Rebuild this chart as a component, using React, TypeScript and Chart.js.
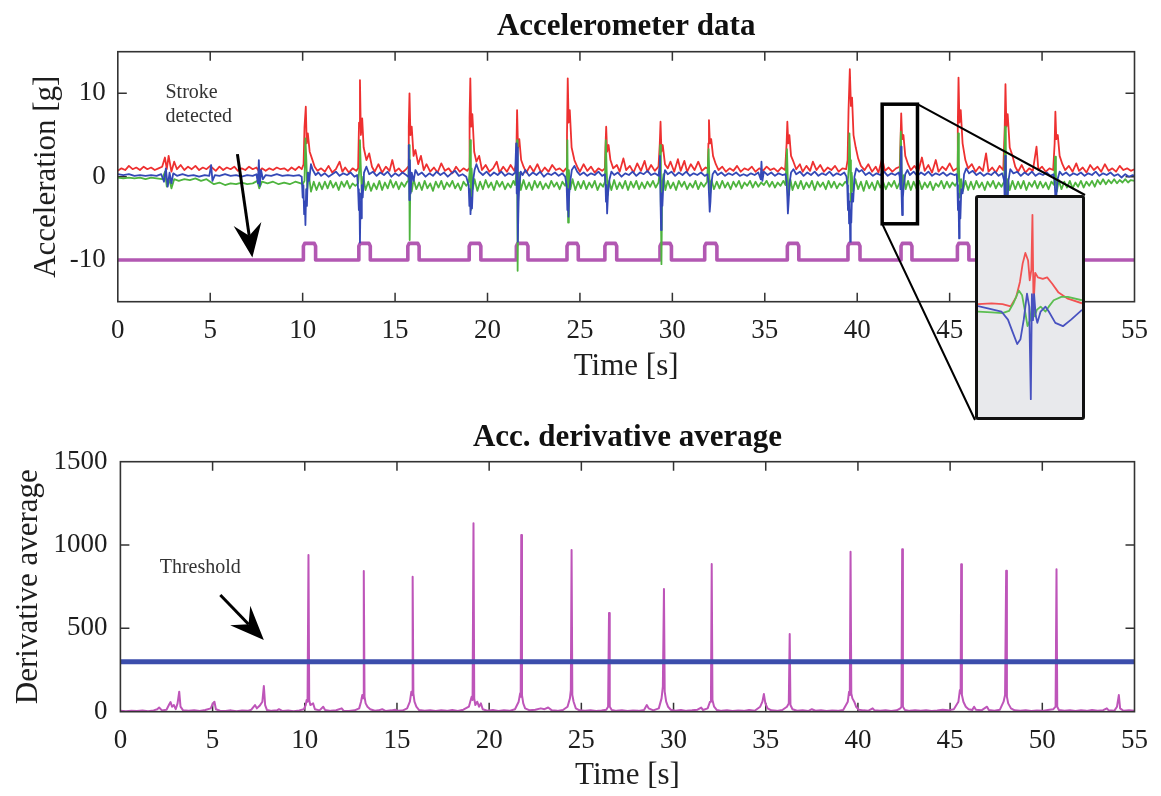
import React, { useEffect, useRef } from 'react';
import { Chart, registerables } from 'chart.js';
Chart.register(...registerables);

type P = [number, number];

const FAMILY = "'Liberation Serif', 'Times New Roman', serif";

const timeTicks = [0, 5, 10, 15, 20, 25, 30, 35, 40, 45, 50, 55];
const accTicks = [-10, 0, 10];
const derivTicks = [0, 500, 1000, 1500];

// Accelerometer x-axis (red)
const redAcc: P[] = [
  [0,0.7],[0.2,1.0],[0.4,0.8],[0.6,1.3],[0.8,0.9],[1.0,1.1],[1.2,0.8],[1.4,1.2],[1.6,0.9],[1.8,1.1],[2.0,0.8],[2.2,1.0],[2.4,1.2],[2.55,2.3],[2.65,0.9],[2.75,2.5],[2.9,0.6],[3.05,1.8],[3.2,0.9],[3.4,1.4],[3.6,0.8],[3.8,1.2],[4.0,0.9],[4.2,1.3],[4.4,0.8],[4.6,1.1],[4.8,0.9],[5.0,1.3],[5.15,1.0],[5.3,0.7],[5.5,1.2],[5.7,0.8],[5.9,1.1],[6.1,0.9],[6.3,1.2],[6.5,0.7],[6.7,1.0],[6.9,0.8],[7.1,1.2],[7.3,0.9],[7.5,1.1],[7.65,0.6],[7.8,1.0],[8.0,0.7],[8.2,1.0],[8.4,0.8],[8.6,1.1],[8.8,0.9],[9.0,1.0],[9.2,0.7],[9.4,1.1],[9.6,0.8],[9.8,1.2],[9.95,0.9],
  [10.05,1.5],[10.1,6.0],[10.17,8.4],[10.22,4.0],[10.28,5.2],[10.38,3.0],[10.5,2.2],[10.65,1.2],[10.8,0.7],[11.0,1.0],[11.2,0.6],[11.4,1.3],[11.6,0.5],[11.8,0.9],[12.0,1.8],[12.15,0.6],[12.3,1.1],[12.5,0.5],[12.7,1.0],[12.9,0.7],
  [13.0,1.0],[13.05,6.5],[13.1,11.6],[13.15,5.0],[13.22,7.0],[13.3,3.5],[13.45,2.0],[13.6,2.8],[13.75,1.2],[13.9,0.6],[14.1,1.5],[14.3,0.5],[14.5,1.2],[14.7,0.7],[14.85,2.0],[15.0,0.6],[15.2,1.0],[15.4,0.5],[15.6,0.9],
  [15.7,1.2],[15.74,6.0],[15.78,10.0],[15.83,5.0],[15.9,6.0],[16.0,2.5],[16.1,3.2],[16.25,1.5],[16.4,2.5],[16.55,0.8],[16.7,1.5],[16.9,0.6],[17.1,1.1],[17.3,0.5],[17.5,1.6],[17.7,0.7],[17.9,1.0],[18.1,0.4],[18.3,1.2],[18.5,0.6],[18.7,1.0],[18.9,0.7],
  [19.0,1.0],[19.03,7.0],[19.07,11.8],[19.12,6.0],[19.18,7.5],[19.28,3.0],[19.4,1.8],[19.55,2.5],[19.7,0.8],[19.9,1.4],[20.1,0.6],[20.3,1.0],[20.5,1.8],[20.65,0.5],[20.85,1.2],[21.05,0.6],[21.25,1.4],[21.45,0.7],
  [21.55,1.5],[21.6,8.0],[21.65,3.5],[21.72,4.5],[21.82,2.0],[21.95,1.2],[22.1,0.5],[22.3,1.3],[22.5,0.6],[22.7,1.5],[22.9,0.5],[23.1,1.1],[23.3,0.6],[23.5,1.4],[23.7,0.8],[23.9,1.0],[24.1,0.6],[24.25,1.0],
  [24.3,5.0],[24.34,11.8],[24.39,6.5],[24.45,8.0],[24.55,3.5],[24.7,2.0],[24.85,1.2],[25.0,0.6],[25.2,1.5],[25.4,0.7],[25.6,1.2],[25.8,0.5],[26.0,1.0],[26.2,0.7],[26.35,1.0],
  [26.38,3.5],[26.42,6.0],[26.47,3.0],[26.55,3.8],[26.65,2.0],[26.8,1.0],[27.0,1.4],[27.15,0.6],[27.35,2.2],[27.5,0.8],[27.7,1.3],[27.9,0.5],[28.1,1.6],[28.3,0.7],[28.5,1.9],[28.65,0.6],[28.85,1.4],[29.05,0.7],[29.25,1.2],
  [29.32,4.0],[29.36,6.6],[29.41,3.0],[29.48,3.8],[29.6,1.5],[29.75,1.0],[29.9,1.8],[30.1,0.6],[30.3,2.1],[30.45,0.7],[30.65,1.9],[30.8,0.6],[31.0,1.5],[31.2,0.8],[31.4,1.8],[31.6,0.7],[31.8,1.1],[31.92,1.0],
  [31.95,4.0],[31.98,6.8],[32.03,4.0],[32.1,4.5],[32.2,2.5],[32.35,1.5],[32.5,0.8],[32.7,1.2],[32.9,0.6],[33.1,1.0],[33.3,0.7],[33.5,1.3],[33.7,0.6],[33.9,1.0],[34.1,0.8],[34.3,1.2],[34.5,0.6],[34.7,1.0],[34.9,0.7],[35.1,1.2],[35.3,0.8],[35.5,1.0],[35.7,0.6],[35.9,1.1],[36.1,0.8],
  [36.18,4.0],[36.22,6.6],[36.27,4.0],[36.33,5.0],[36.42,2.5],[36.55,1.8],[36.7,0.9],[36.9,1.5],[37.05,0.6],[37.25,1.3],[37.45,0.7],[37.6,1.8],[37.8,0.8],[38.0,1.4],[38.2,0.6],[38.4,1.1],[38.6,0.8],[38.8,1.3],[39.0,0.6],[39.2,1.0],[39.4,0.9],
  [39.48,2.0],[39.53,8.0],[39.6,12.9],[39.66,8.5],[39.72,9.5],[39.8,5.0],[39.92,3.5],[40.05,2.2],[40.2,1.3],[40.4,0.8],[40.6,1.5],[40.8,0.6],[41.0,1.2],[41.15,0.5],[41.35,2.2],[41.5,0.7],[41.7,1.1],[41.9,0.6],[42.1,1.0],[42.3,1.2],
  [42.34,4.0],[42.38,7.6],[42.43,4.5],[42.5,5.0],[42.6,2.5],[42.75,1.5],[42.9,0.8],[43.1,1.3],[43.3,0.6],[43.5,2.3],[43.65,0.7],[43.85,1.4],[44.05,0.5],[44.25,2.0],[44.4,0.6],[44.6,1.2],[44.8,0.8],[45.0,1.6],[45.2,0.7],[45.4,1.0],
  [45.44,6.0],[45.48,11.9],[45.53,6.5],[45.6,8.0],[45.7,4.0],[45.85,2.0],[46.0,1.0],[46.2,1.5],[46.4,0.6],[46.6,1.2],[46.8,0.7],[46.97,2.8],[47.1,0.6],[47.3,1.1],[47.5,0.5],[47.7,1.3],[47.9,0.8],
  [47.98,6.0],[48.02,11.1],[48.07,6.0],[48.14,7.5],[48.25,3.5],[48.4,2.5],[48.55,1.2],[48.7,0.6],[48.9,1.4],[49.1,0.5],[49.3,1.0],[49.5,0.7],[49.7,3.6],[49.8,0.8],[50.0,1.2],[50.2,0.6],[50.4,1.0],[50.6,0.8],
  [50.68,4.0],[50.72,7.8],[50.77,4.5],[50.85,5.0],[50.95,2.5],[51.1,1.5],[51.25,0.8],[51.45,1.3],[51.65,0.6],[51.85,1.6],[52.0,0.7],[52.2,1.1],[52.4,0.5],[52.6,1.4],[52.8,0.8],[53.0,1.2],[53.2,0.6],[53.4,1.5],[53.6,0.7],[53.8,1.0],[54.0,0.6],[54.2,1.3],[54.4,0.8],[54.6,1.0],[54.8,0.7],[55.0,0.9]
];

// Accelerometer y-axis (green)
const greenAcc: P[] = [
  [0,-0.1],[0.3,-0.2],[0.6,-0.1],[0.9,-0.2],[1.2,-0.1],[1.5,-0.3],[1.8,-0.1],[2.1,-0.2],[2.4,-0.3],[2.55,0.6],[2.65,-1.2],[2.8,-0.4],[2.9,-1.4],[3.05,-0.3],[3.3,-0.5],[3.6,-0.3],[3.9,-0.4],[4.2,-0.2],[4.5,-0.5],[4.8,-0.3],[5.0,-0.6],[5.2,-0.9],[5.5,-0.7],[5.8,-1.0],[6.1,-0.8],[6.4,-0.9],[6.7,-0.7],[7.0,-0.9],[7.3,-0.8],[7.55,-0.5],[7.65,-1.4],[7.8,-0.6],[8.1,-0.8],[8.4,-0.6],[8.7,-0.9],[9.0,-0.7],[9.3,-0.9],[9.6,-0.6],[9.9,-0.8],
  [10.0,-0.9],[10.1,-0.5],[10.15,4.6],[10.2,2.0],[10.25,-1.5],[10.32,0.5],[10.45,-1.8],[10.6,-0.6],[10.75,-1.6],[10.9,-0.7],[11.05,-1.5],[11.2,-0.6],[11.35,-1.4],[11.5,-0.5],[11.65,-1.3],[11.8,-0.7],[11.95,-1.6],[12.1,-0.6],[12.25,-1.2],[12.4,-0.5],[12.55,-1.4],[12.7,-0.8],[12.85,-1.1],
  [13.0,-0.8],[13.07,1.0],[13.1,4.4],[13.14,1.5],[13.2,-2.0],[13.28,0.0],[13.4,-1.6],[13.55,-0.6],[13.7,-1.7],[13.85,-0.8],[14.0,-1.5],[14.15,-0.5],[14.3,-1.6],[14.45,-0.7],[14.6,-1.4],[14.75,-0.4],[14.9,-1.3],[15.05,-0.6],[15.2,-1.5],[15.35,-0.7],[15.5,-1.2],[15.65,-0.6],
  [15.72,-0.5],[15.76,3.8],[15.79,-7.6],[15.83,0.5],[15.9,-1.8],[16.0,-0.3],[16.15,-1.5],[16.3,-0.7],[16.45,-1.6],[16.6,-0.5],[16.75,-1.4],[16.9,-0.8],[17.05,-1.7],[17.2,-0.6],[17.35,-1.3],[17.5,-0.5],[17.65,-1.5],[17.8,-0.7],[17.95,-1.2],[18.1,-0.5],[18.25,-1.4],[18.4,-0.8],[18.55,-1.6],[18.7,-0.6],[18.85,-1.1],[18.98,-0.7],
  [19.03,0.5],[19.06,4.4],[19.1,-4.0],[19.14,1.0],[19.2,-1.5],[19.3,-0.3],[19.45,-1.7],[19.6,-0.6],[19.75,-1.5],[19.9,-0.4],[20.05,-1.3],[20.2,-0.7],[20.35,-1.6],[20.5,-0.5],[20.65,-1.2],[20.8,-0.6],[20.95,-1.5],[21.1,-0.8],[21.25,-1.3],[21.4,-0.5],[21.5,-1.0],
  [21.57,0.8],[21.6,4.4],[21.63,-11.3],[21.67,-1.0],[21.72,0.5],[21.8,-1.6],[21.95,-0.4],[22.1,-1.5],[22.25,-0.7],[22.4,-1.6],[22.55,-0.5],[22.7,-1.3],[22.85,-0.6],[23.0,-1.5],[23.15,-0.8],[23.3,-1.4],[23.45,-0.5],[23.6,-1.2],[23.75,-0.7],[23.9,-1.5],[24.05,-0.6],[24.2,-1.1],
  [24.28,-0.5],[24.32,4.4],[24.36,-5.5],[24.4,0.8],[24.48,-1.5],[24.6,-0.3],[24.75,-1.6],[24.9,-0.6],[25.05,-1.4],[25.2,-0.5],[25.35,-1.5],[25.5,-0.7],[25.65,-1.3],[25.8,-0.5],[25.95,-1.6],[26.1,-0.8],[26.25,-1.2],[26.35,-0.6],
  [26.4,4.4],[26.45,0.5],[26.5,-2.2],[26.58,-0.5],[26.7,-1.6],[26.85,-0.4],[27.0,-1.5],[27.15,-0.7],[27.3,-1.4],[27.45,-0.5],[27.6,-1.6],[27.75,-0.6],[27.9,-1.3],[28.05,-0.5],[28.2,-1.5],[28.35,-0.7],[28.5,-1.4],[28.65,-0.6],[28.8,-1.2],[28.95,-0.5],[29.1,-1.3],[29.25,-0.7],
  [29.31,0.5],[29.34,3.8],[29.38,-4.0],[29.41,-10.5],[29.45,-1.0],[29.52,0.3],[29.62,-1.6],[29.75,-0.5],[29.9,-1.4],[30.05,-0.7],[30.2,-1.6],[30.35,-0.5],[30.5,-1.2],[30.65,-0.6],[30.8,-1.5],[30.95,-0.8],[31.1,-1.3],[31.25,-0.5],[31.4,-1.5],[31.55,-0.7],[31.7,-1.2],[31.88,-0.6],
  [31.96,3.3],[32.0,0.0],[32.05,-2.0],[32.12,-0.4],[32.25,-1.5],[32.4,-0.6],[32.55,-1.4],[32.7,-0.5],[32.85,-1.3],[33.0,-0.7],[33.15,-1.5],[33.3,-0.6],[33.45,-1.2],[33.6,-0.5],[33.75,-1.4],[33.9,-0.7],[34.05,-1.1],[34.2,-0.5],[34.35,-1.3],[34.5,-0.6],[34.65,-1.2],[34.8,-0.7],[34.95,-1.0],[35.1,-0.5],[35.25,-1.2],[35.4,-0.6],[35.55,-1.3],[35.7,-0.7],[35.85,-1.1],[36.0,-0.5],[36.12,-1.0],
  [36.2,3.3],[36.24,0.0],[36.3,-2.2],[36.38,-0.3],[36.5,-1.6],[36.65,-0.6],[36.8,-1.4],[36.95,-0.5],[37.1,-1.5],[37.25,-0.7],[37.4,-1.3],[37.55,-0.5],[37.7,-1.6],[37.85,-0.6],[38.0,-1.2],[38.15,-0.7],[38.3,-1.5],[38.45,-0.5],[38.6,-1.3],[38.75,-0.6],[38.9,-1.4],[39.05,-0.8],[39.2,-1.1],[39.35,-0.6],[39.48,-0.9],
  [39.54,1.0],[39.58,5.2],[39.62,2.0],[39.66,-3.0],[39.7,0.5],[39.78,-1.8],[39.9,-0.3],[40.05,-1.5],[40.2,-0.6],[40.35,-1.7],[40.5,-0.5],[40.65,-1.4],[40.8,-0.7],[40.95,-1.6],[41.1,-0.5],[41.25,-1.3],[41.4,-0.6],[41.55,-1.5],[41.7,-0.7],[41.85,-1.2],[42.0,-0.5],[42.15,-1.4],[42.3,-0.7],
  [42.36,5.4],[42.4,1.0],[42.45,-1.8],[42.52,0.2],[42.62,-1.5],[42.75,-0.5],[42.9,-1.6],[43.05,-0.6],[43.2,-1.4],[43.35,-0.5],[43.5,-1.5],[43.65,-0.7],[43.8,-1.3],[43.95,-0.6],[44.1,-1.6],[44.25,-0.8],[44.4,-1.2],[44.55,-0.5],[44.7,-1.4],[44.85,-0.6],[45.0,-1.3],[45.15,-0.7],[45.3,-1.1],[45.42,-0.6],
  [45.46,5.2],[45.5,1.5],[45.55,-2.5],[45.62,-0.3],[45.72,-1.7],[45.85,-0.5],[46.0,-1.6],[46.15,-0.6],[46.3,-1.5],[46.45,-0.5],[46.6,-1.3],[46.75,-0.7],[46.9,-1.6],[47.05,-0.6],[47.2,-1.2],[47.35,-0.5],[47.5,-1.4],[47.65,-0.7],[47.8,-1.2],[47.95,-0.6],
  [48.0,6.0],[48.04,2.0],[48.08,-2.5],[48.15,-0.3],[48.25,-1.6],[48.4,-0.5],[48.55,-1.5],[48.7,-0.6],[48.85,-1.4],[49.0,-0.5],[49.15,-1.6],[49.3,-0.7],[49.45,-1.2],[49.6,-0.5],[49.75,-1.4],[49.9,-0.6],[50.05,-1.3],[50.2,-0.7],[50.35,-1.5],[50.5,-0.6],[50.65,-1.0],
  [50.7,2.4],[50.75,-0.5],[50.8,-1.8],[50.9,-0.4],[51.05,-1.5],[51.2,-0.6],[51.35,-1.3],[51.5,-0.5],[51.65,-1.4],[51.8,-0.7],[51.95,-1.2],[52.1,-0.5],[52.25,-1.3],[52.4,-0.6],[52.55,-1.1],[52.7,-0.5],[52.85,-1.2],[53.0,-0.4],[53.15,-0.9],[53.3,-0.3],[53.45,-0.9],[53.6,-0.4],[53.75,-0.8],[53.9,-0.3],[54.05,-0.8],[54.2,-0.4],[54.35,-0.7],[54.5,-0.3],[54.65,-0.7],[54.8,-0.4],[55.0,-0.5]
];

// Accelerometer z-axis (blue)
const blueAcc: P[] = [
  [0,0.3],[0.3,0.2],[0.6,0.3],[0.9,0.1],[1.2,0.2],[1.5,0.1],[1.8,0.2],[2.1,0.1],[2.35,0.3],[2.5,-0.6],[2.6,1.0],[2.7,-1.2],[2.8,0.5],[2.9,-0.8],[3.0,0.4],[3.2,0.1],[3.5,0.3],[3.8,0.1],[4.1,0.2],[4.4,0.0],[4.7,0.2],[4.95,0.1],[5.05,1.4],[5.12,-0.5],[5.25,0.2],[5.5,0.1],[5.8,0.3],[6.1,0.1],[6.4,0.2],[6.7,0.0],[7.0,0.2],[7.3,0.1],[7.5,0.3],[7.58,-0.8],[7.63,2.0],[7.68,-1.1],[7.75,0.8],[7.85,-0.3],[8.0,0.2],[8.3,0.1],[8.6,0.3],[8.9,0.1],[9.2,0.2],[9.5,0.1],[9.8,0.2],
  [9.95,0.0],[10.0,-2.5],[10.04,-1.0],[10.08,-4.5],[10.12,-3.0],[10.15,-5.8],[10.19,-1.5],[10.23,-3.5],[10.28,0.5],[10.35,-0.5],[10.45,1.5],[10.55,0.8],[10.7,0.2],[10.85,0.5],[11.0,0.1],[11.2,0.4],[11.4,0.0],[11.6,0.3],[11.8,0.6],[12.0,0.1],[12.2,0.4],[12.4,0.2],[12.6,0.5],[12.8,0.0],[12.95,0.2],
  [13.0,-1.5],[13.04,-4.0],[13.07,-2.0],[13.1,-7.9],[13.13,-3.0],[13.16,-5.0],[13.2,-1.0],[13.25,-2.5],[13.32,0.5],[13.45,1.2],[13.6,0.3],[13.8,0.6],[14.0,0.1],[14.2,0.5],[14.4,0.2],[14.6,0.6],[14.8,0.0],[15.0,0.4],[15.2,0.1],[15.4,0.5],[15.6,0.2],
  [15.7,0.0],[15.74,3.8],[15.77,-2.8],[15.8,2.0],[15.84,-2.0],[15.9,0.5],[16.0,-0.5],[16.1,0.8],[16.25,0.2],[16.45,0.5],[16.65,0.0],[16.85,0.4],[17.05,0.1],[17.25,0.6],[17.45,0.2],[17.65,0.5],[17.85,0.0],[18.05,0.4],[18.25,0.7],[18.45,0.1],[18.65,0.3],[18.85,0.0],
  [18.98,-1.0],[19.02,-3.5],[19.05,-1.5],[19.08,-4.5],[19.12,-2.5],[19.16,-3.8],[19.22,-0.5],[19.3,0.8],[19.4,1.5],[19.55,0.6],[19.75,0.2],[19.95,0.6],[20.15,0.1],[20.35,0.5],[20.55,0.2],[20.75,0.6],[20.95,0.1],[21.15,0.4],[21.35,0.2],[21.5,0.5],
  [21.55,4.0],[21.58,-2.0],[21.61,3.5],[21.64,-7.8],[21.68,-3.0],[21.72,-1.0],[21.8,0.6],[21.9,0.2],[22.05,0.8],[22.25,0.1],[22.45,0.5],[22.65,0.2],[22.85,0.6],[23.05,0.0],[23.25,0.4],[23.45,0.2],[23.65,0.5],[23.85,0.1],[24.05,0.4],[24.2,0.0],
  [24.28,-1.0],[24.32,-4.0],[24.35,-1.5],[24.38,-4.8],[24.42,-2.0],[24.48,-0.5],[24.56,0.8],[24.7,1.3],[24.85,0.6],[25.0,0.2],[25.2,0.5],[25.4,0.1],[25.6,0.4],[25.8,0.2],[26.0,0.6],[26.2,0.1],[26.35,0.3],
  [26.38,-0.5],[26.41,-3.0],[26.44,-1.0],[26.47,-4.4],[26.52,-2.0],[26.6,-0.3],[26.7,0.6],[26.85,0.2],[27.05,0.5],[27.25,0.0],[27.45,0.4],[27.65,0.2],[27.85,0.6],[28.05,0.1],[28.25,0.5],[28.45,0.3],[28.65,0.7],[28.85,0.2],[29.05,0.4],[29.25,0.1],
  [29.3,1.0],[29.33,2.5],[29.36,-3.0],[29.39,-6.4],[29.42,-2.0],[29.46,-3.5],[29.52,-0.5],[29.6,0.8],[29.75,0.3],[29.95,0.6],[30.15,0.1],[30.35,0.5],[30.55,0.2],[30.75,0.6],[30.95,0.1],[31.15,0.4],[31.35,0.2],[31.55,0.5],[31.75,0.1],[31.9,0.3],
  [31.95,-0.5],[31.99,-2.5],[32.02,-4.2],[32.06,-3.0],[32.1,-1.0],[32.18,0.3],[32.3,0.7],[32.45,0.2],[32.65,0.5],[32.85,0.1],[33.05,0.4],[33.25,0.2],[33.45,0.5],[33.65,0.1],[33.85,0.3],[34.05,0.1],[34.25,0.4],[34.45,0.2],[34.65,0.5],[34.78,-0.3],[34.82,1.8],[34.87,-0.5],[34.95,0.6],[35.15,0.2],[35.35,0.5],[35.55,0.1],[35.75,0.4],[35.95,0.2],[36.12,0.3],
  [36.18,-0.5],[36.22,-2.5],[36.25,-4.4],[36.29,-3.0],[36.34,-0.8],[36.42,0.5],[36.55,0.9],[36.7,0.3],[36.9,0.6],[37.1,0.1],[37.3,0.5],[37.5,0.2],[37.7,0.6],[37.9,0.1],[38.1,0.4],[38.3,0.2],[38.5,0.6],[38.7,0.1],[38.9,0.4],[39.1,0.2],[39.3,0.5],[39.42,0.0],
  [39.46,-1.0],[39.5,-4.0],[39.53,-2.0],[39.56,-5.6],[39.59,-3.0],[39.62,-7.8],[39.65,-4.0],[39.68,-5.5],[39.72,-2.0],[39.78,-3.0],[39.85,0.0],[39.95,1.0],[40.1,0.6],[40.25,0.8],[40.45,0.2],[40.65,0.5],[40.85,0.1],[41.05,0.4],[41.25,0.2],[41.45,0.6],[41.65,0.1],[41.85,0.4],[42.05,0.2],[42.25,0.5],
  [42.3,0.0],[42.34,-1.5],[42.37,3.6],[42.4,-2.0],[42.43,-4.6],[42.47,-2.5],[42.52,-1.0],[42.6,0.3],[42.72,0.8],[42.85,0.2],[43.05,0.6],[43.25,0.1],[43.45,0.5],[43.65,0.2],[43.85,0.6],[44.05,0.1],[44.25,0.4],[44.45,0.2],[44.65,0.5],[44.85,0.1],[45.05,0.4],[45.25,0.2],[45.38,0.3],
  [45.42,-1.0],[45.45,-4.0],[45.48,-2.0],[45.51,-7.4],[45.54,-3.0],[45.58,-5.0],[45.63,-1.5],[45.7,-2.0],[45.78,0.3],[45.9,1.0],[46.05,0.4],[46.25,0.7],[46.45,0.2],[46.65,0.5],[46.85,0.1],[47.05,0.4],[47.25,0.2],[47.45,0.6],[47.65,0.1],[47.85,0.4],
  [47.95,-0.5],[47.98,-3.0],[48.01,2.5],[48.04,-5.0],[48.08,-2.5],[48.12,-4.0],[48.18,-0.5],[48.28,0.9],[48.45,0.4],[48.65,0.6],[48.85,0.1],[49.05,0.5],[49.25,0.2],[49.45,0.6],[49.65,0.1],[49.85,0.4],[50.05,0.2],[50.25,0.5],[50.45,0.1],[50.62,0.3],
  [50.68,-0.5],[50.71,-2.0],[50.74,-3.5],[50.78,-2.0],[50.84,-0.3],[50.95,0.6],[51.1,0.2],[51.3,0.5],[51.5,0.1],[51.7,0.4],[51.9,0.2],[52.1,0.5],[52.3,0.1],[52.5,0.4],[52.7,0.2],[52.9,0.6],[53.1,0.1],[53.3,0.4],[53.5,0.2],[53.7,0.5],[53.9,0.1],[54.1,0.3],[54.3,-0.1],[54.5,0.3],[54.7,0.0],[54.9,0.2],[55.0,0.1]
];

// Stroke-detected pulses: [start, end] in seconds
const strokePulses: P[] = [
  [10.04,10.70],[13.04,13.66],[15.69,16.30],[19.01,19.64],[21.56,22.19],[24.30,24.91],[26.35,26.99],[29.33,29.95],
  [31.75,32.41],[36.22,36.84],[39.50,40.15],[42.37,42.96],[45.42,46.04],[48.00,48.62],[50.70,51.32]
];
const pulseLow = -10;
const pulseHigh = -8;

// Derivative average
const derivAvg: P[] = [
  [0,5],[0.3,3],[0.6,6],[0.9,4],[1.2,7],[1.5,3],[1.8,8],[2.0,15],[2.1,25],[2.25,8],[2.5,12],[2.65,45],[2.72,58],[2.8,30],[2.9,40],[3.0,15],[3.1,50],[3.19,120],[3.26,30],[3.4,8],[3.7,5],[4.0,9],[4.3,4],[4.6,10],[4.9,20],[5.0,45],[5.1,60],[5.18,15],[5.4,6],[5.7,4],[6.0,8],[6.3,3],[6.6,7],[6.9,5],[7.1,12],[7.3,40],[7.4,20],[7.55,35],[7.7,60],[7.78,154],[7.85,40],[7.95,10],[8.2,5],[8.5,8],[8.6,15],[8.8,4],[9.1,7],[9.4,3],[9.7,8],[9.95,15],
  [10.05,40],[10.1,70],[10.15,60],[10.2,940],[10.24,70],[10.3,40],[10.45,50],[10.55,15],[10.8,8],[11.0,30],[11.1,10],[11.4,5],[11.7,9],[12.0,20],[12.1,6],[12.4,4],[12.7,8],[12.95,20],
  [13.05,60],[13.12,100],[13.16,80],[13.2,844],[13.24,90],[13.3,50],[13.4,30],[13.55,15],[13.8,6],[14.0,8],[14.2,15],[14.4,4],[14.7,8],[14.9,12],[15.0,5],[15.3,7],[15.55,20],[15.7,60],
  [15.78,120],[15.82,100],[15.85,810],[15.89,110],[15.95,60],[16.05,30],[16.2,10],[16.5,6],[16.8,9],[17.1,4],[17.4,8],[17.7,5],[18.0,10],[18.3,4],[18.6,12],[18.9,30],[19.0,70],
  [19.05,90],[19.1,70],[19.15,1130],[19.19,80],[19.25,40],[19.35,60],[19.45,30],[19.55,50],[19.65,15],[19.9,6],[20.2,10],[20.5,4],[20.8,8],[21.1,5],[21.4,15],[21.6,60],
  [21.68,110],[21.71,90],[21.74,1060],[21.78,100],[21.85,50],[21.95,20],[22.2,8],[22.5,12],[22.8,20],[23.0,15],[23.2,25],[23.4,8],[23.7,5],[24.0,10],[24.25,30],[24.38,80],
  [24.43,130],[24.47,970],[24.51,100],[24.58,60],[24.7,20],[24.9,8],[25.2,5],[25.5,9],[25.8,4],[26.1,7],[26.35,12],[26.45,30],
  [26.5,592],[26.54,30],[26.65,10],[26.9,5],[27.2,8],[27.5,4],[27.8,7],[28.1,5],[28.4,10],[28.55,40],[28.65,20],[28.9,8],[29.2,20],[29.35,80],[29.42,150],
  [29.48,736],[29.52,120],[29.6,60],[29.7,30],[29.85,12],[30.1,6],[30.4,10],[30.7,5],[31.0,8],[31.3,12],[31.5,25],[31.6,10],[31.85,20],[31.98,60],[32.03,80],
  [32.07,886],[32.11,70],[32.2,30],[32.35,10],[32.6,5],[32.9,8],[33.2,4],[33.5,7],[33.8,5],[34.1,10],[34.4,6],[34.7,30],[34.82,60],[34.9,106],[34.98,50],[35.1,20],[35.3,8],[35.6,5],[35.9,10],[36.15,30],[36.25,50],
  [36.3,466],[36.34,40],[36.45,15],[36.7,6],[37.0,9],[37.3,4],[37.5,15],[37.7,6],[38.0,8],[38.3,4],[38.6,7],[38.9,5],[39.2,10],[39.45,60],[39.52,120],[39.56,100],
  [39.6,960],[39.64,110],[39.7,80],[39.8,60],[39.9,30],[40.05,12],[40.3,8],[40.55,5],[40.8,20],[40.9,8],[41.2,5],[41.5,9],[41.8,4],[42.1,8],[42.3,20],[42.36,30],
  [42.4,974],[42.44,30],[42.55,10],[42.8,5],[43.1,9],[43.4,5],[43.7,8],[44.0,4],[44.3,7],[44.6,12],[44.9,8],[45.2,15],[45.45,60],[45.53,130],[45.57,110],
  [45.6,884],[45.64,100],[45.72,60],[45.85,30],[46.0,15],[46.2,10],[46.3,30],[46.4,12],[46.7,8],[47.0,30],[47.1,10],[47.4,6],[47.7,12],[47.9,60],[47.98,100],
  [48.04,846],[48.08,90],[48.15,50],[48.3,20],[48.5,8],[48.8,5],[49.1,9],[49.4,4],[49.7,7],[50.0,5],[50.3,10],[50.6,15],[50.72,30],
  [50.77,854],[50.81,30],[50.9,10],[51.2,6],[51.5,9],[51.8,4],[52.1,8],[52.4,5],[52.7,10],[53.0,6],[53.3,9],[53.5,20],[53.6,8],[53.9,5],[54.05,30],[54.15,100],[54.22,20],[54.4,6],[54.7,9],[55.0,5]
];
const thresholdValue = 300;

// Zoomed window (time range and acceleration range) shown in the inset
const zoomWindow = { t0: 41.35, t1: 43.26, v0: -5.65, v1: 8.7 };

const insetRed: P[] = [
  [41.35,1.75],[41.6,1.8],[41.8,1.75],[41.95,1.6],[42.05,2.2],[42.12,3.2],[42.17,4.4],[42.22,5.1],[42.27,4.6],[42.3,3.3],[42.33,4.0],[42.35,7.6],[42.37,1.6],[42.4,3.8],[42.45,3.5],[42.54,3.4],[42.62,3.5],[42.71,3.1],[42.83,2.5],[43.0,2.1],[43.26,1.8]
];
const insetGreen: P[] = [
  [41.35,1.26],[41.6,1.2],[41.8,1.15],[41.92,1.3],[42.0,1.8],[42.1,2.64],[42.16,2.32],[42.22,1.15],[42.26,0.3],[42.31,0.73],[42.35,2.0],[42.39,0.94],[42.43,1.37],[42.5,1.58],[42.59,1.26],[42.65,1.58],[42.74,2.0],[42.88,2.22],[43.0,2.22],[43.26,2.0]
];
const insetBlue: P[] = [
  [41.35,1.62],[41.55,1.45],[41.78,1.26],[41.9,0.73],[41.99,-0.12],[42.07,-0.87],[42.13,-0.55],[42.19,0.73],[42.25,2.43],[42.29,1.6],[42.32,-4.48],[42.34,2.4],[42.36,0.7],[42.38,2.4],[42.41,1.0],[42.44,0.52],[42.5,1.26],[42.59,1.58],[42.65,1.26],[42.77,0.52],[42.91,0.3],[43.06,0.73],[43.26,1.37]
];

// Annotation anchor points (data coordinates)
const strokeNote = { t: 2.58, line1: 9.4, line2: 6.54 };
const strokeArrow = { t0: 6.47, v0: 2.71, t1: 7.28, v1: -9.71 };
const thresholdNote = { t: 2.13, v: 834 };
const thresholdArrow = { t0: 5.42, v0: 700, t1: 7.78, v1: 430 };

// Layout
const W = 1161;
const TOP_H = 430;
const BOT_TOP = 400;
const BOT_H = 396;
const INSET = { left: 975, top: 195, width: 110, height: 225 };

const C_RED = 'rgb(238,48,48)';
const C_GREEN = 'rgb(78,180,62)';
const C_BLUE = 'rgb(52,72,182)';
const C_MAG = 'rgb(178,88,178)';
const C_MAG2 = 'rgb(190,85,185)';
const C_THR = 'rgb(60,78,172)';
const TEXT = '#1e1e1e';

const toXY = (arr: P[]) => arr.map(([x, y]) => ({ x, y }));

function pulseSeries() {
  const pts: { x: number; y: number }[] = [{ x: 0, y: pulseLow }];
  for (const [s, e] of strokePulses) {
    pts.push(
      { x: s, y: pulseLow },
      { x: s, y: pulseHigh - 0.35 },
      { x: s + 0.07, y: pulseHigh },
      { x: e - 0.07, y: pulseHigh },
      { x: e, y: pulseHigh - 0.35 },
      { x: e, y: pulseLow }
    );
  }
  pts.push({ x: 55, y: pulseLow });
  return pts;
}

function drawArrow(ctx: CanvasRenderingContext2D, x0: number, y0: number, x1: number, y1: number) {
  const ang = Math.atan2(y1 - y0, x1 - x0);
  const ux = Math.cos(ang), uy = Math.sin(ang);
  const px = -uy, py = ux;
  const len = 34, half = 14, notch = 22;
  const bx = x1 - ux * len, by = y1 - uy * len;
  const nx = x1 - ux * notch, ny = y1 - uy * notch;
  ctx.strokeStyle = '#000';
  ctx.fillStyle = '#000';
  ctx.lineWidth = 3;
  ctx.beginPath();
  ctx.moveTo(x0, y0);
  ctx.lineTo(nx, ny);
  ctx.stroke();
  ctx.beginPath();
  ctx.moveTo(x1, y1);
  ctx.lineTo(bx + px * half, by + py * half);
  ctx.lineTo(nx, ny);
  ctx.lineTo(bx - px * half, by - py * half);
  ctx.closePath();
  ctx.fill();
}

const framePlugin = {
  id: 'matlabFrame',
  beforeDatasetsDraw(chart: any) {
    const { ctx, chartArea: a, scales } = chart;
    const xs = scales.x, ys = scales.y;
    ctx.save();
    ctx.strokeStyle = '#333';
    ctx.lineWidth = 1.5;
    const L = 9;
    ctx.beginPath();
    xs.ticks.forEach((t: any) => {
      const p = xs.getPixelForValue(t.value);
      if (p <= a.left + 1 || p >= a.right - 1) return;
      ctx.moveTo(p, a.bottom); ctx.lineTo(p, a.bottom - L);
      ctx.moveTo(p, a.top); ctx.lineTo(p, a.top + L);
    });
    ys.ticks.forEach((t: any) => {
      const p = ys.getPixelForValue(t.value);
      if (p <= a.top + 1 || p >= a.bottom - 1) return;
      ctx.moveTo(a.left, p); ctx.lineTo(a.left + L, p);
      ctx.moveTo(a.right, p); ctx.lineTo(a.right - L, p);
    });
    ctx.stroke();
    ctx.restore();
  },
  afterDatasetsDraw(chart: any) {
    const { ctx, chartArea: a } = chart;
    ctx.save();
    ctx.strokeStyle = '#333';
    ctx.lineWidth = 1.6;
    ctx.strokeRect(a.left, a.top, a.right - a.left, a.bottom - a.top);
    ctx.restore();
  },
};

const topAnnotPlugin = {
  id: 'topAnnot',
  afterDatasetsDraw(chart: any) {
    const { ctx } = chart;
    const xs = chart.scales.x, ys = chart.scales.y;
    ctx.save();
    const l = xs.getPixelForValue(zoomWindow.t0), r = xs.getPixelForValue(zoomWindow.t1);
    const t = ys.getPixelForValue(zoomWindow.v1), b = ys.getPixelForValue(zoomWindow.v0);
    ctx.strokeStyle = '#000';
    ctx.lineWidth = 2;
    ctx.beginPath();
    ctx.moveTo(r, t); ctx.lineTo(INSET.left + INSET.width, INSET.top);
    ctx.moveTo(l, b); ctx.lineTo(INSET.left, INSET.top + INSET.height);
    ctx.stroke();
    ctx.lineWidth = 3.5;
    ctx.strokeRect(l, t, r - l, b - t);
    ctx.fillStyle = '#333';
    ctx.font = `20px ${FAMILY}`;
    ctx.textAlign = 'left';
    ctx.textBaseline = 'alphabetic';
    ctx.fillText('Stroke', xs.getPixelForValue(strokeNote.t), ys.getPixelForValue(strokeNote.line1));
    ctx.fillText('detected', xs.getPixelForValue(strokeNote.t), ys.getPixelForValue(strokeNote.line2));
    drawArrow(ctx,
      xs.getPixelForValue(strokeArrow.t0), ys.getPixelForValue(strokeArrow.v0),
      xs.getPixelForValue(strokeArrow.t1), ys.getPixelForValue(strokeArrow.v1));
    ctx.restore();
  },
};

const botAnnotPlugin = {
  id: 'botAnnot',
  afterDatasetsDraw(chart: any) {
    const { ctx } = chart;
    const xs = chart.scales.x, ys = chart.scales.y;
    ctx.save();
    ctx.fillStyle = '#333';
    ctx.font = `20px ${FAMILY}`;
    ctx.textAlign = 'left';
    ctx.textBaseline = 'alphabetic';
    ctx.fillText('Threshold', xs.getPixelForValue(thresholdNote.t), ys.getPixelForValue(thresholdNote.v));
    drawArrow(ctx,
      xs.getPixelForValue(thresholdArrow.t0), ys.getPixelForValue(thresholdArrow.v0),
      xs.getPixelForValue(thresholdArrow.t1), ys.getPixelForValue(thresholdArrow.v1));
    ctx.restore();
  },
};

function lineDs(data: any[], color: string, width: number, order: number) {
  return {
    data,
    borderColor: color,
    borderWidth: width,
    pointRadius: 0,
    tension: 0,
    fill: false,
    order,
    borderJoinStyle: 'round' as const,
  };
}

function axes(opts: {
  yTicks: number[]; yMin: number; yMax: number; yTitle: string;
  yWidth: number; yTickPad: number; yTitlePad: number;
  xHeight: number; xTickPad: number; xTitlePad: number;
}) {
  return {
    x: {
      type: 'linear' as const,
      min: 0,
      max: 55,
      grid: { display: false, drawTicks: false },
      border: { display: false },
      afterBuildTicks: (s: any) => { s.ticks = timeTicks.map((value) => ({ value })); },
      afterFit: (s: any) => { s.height = opts.xHeight; },
      ticks: {
        autoSkip: false, maxRotation: 0, minRotation: 0, padding: opts.xTickPad, color: TEXT,
        font: { size: 27, family: FAMILY }, callback: (v: any) => String(v),
      },
      title: {
        display: true, text: 'Time [s]', color: TEXT,
        font: { size: 31, family: FAMILY }, padding: { top: 0, bottom: opts.xTitlePad },
      },
    },
    y: {
      type: 'linear' as const,
      min: opts.yMin,
      max: opts.yMax,
      grid: { display: false, drawTicks: false },
      border: { display: false },
      afterBuildTicks: (s: any) => { s.ticks = opts.yTicks.map((value) => ({ value })); },
      afterFit: (s: any) => { s.width = opts.yWidth; },
      ticks: {
        autoSkip: false, padding: opts.yTickPad, color: TEXT,
        font: { size: 27, family: FAMILY }, callback: (v: any) => String(v),
      },
      title: {
        display: true, text: opts.yTitle, color: TEXT,
        font: { size: 31, family: FAMILY }, padding: { top: opts.yTitlePad, bottom: 0 },
      },
    },
  };
}

export default function App() {
  const topRef = useRef<HTMLCanvasElement>(null);
  const botRef = useRef<HTMLCanvasElement>(null);
  const insetRef = useRef<HTMLCanvasElement>(null);

  useEffect(() => {
    const charts: Chart[] = [];
    if (topRef.current) {
      charts.push(new Chart(topRef.current, {
        type: 'line',
        data: {
          datasets: [
            lineDs(toXY(blueAcc), C_BLUE, 1.8, 0),
            lineDs(toXY(greenAcc), C_GREEN, 1.8, 1),
            lineDs(toXY(redAcc), C_RED, 1.8, 2),
            lineDs(pulseSeries(), C_MAG, 3.6, 3),
          ] as any,
        },
        options: {
          animation: false,
          responsive: false,
          events: [],
          layout: { padding: { left: 0, right: W - 1139.4, top: 0, bottom: 0 } },
          plugins: {
            legend: { display: false },
            tooltip: { enabled: false },
            title: {
              display: true, text: 'Accelerometer data', fullSize: false, color: '#111',
              font: { size: 31, weight: 'bold', family: FAMILY }, padding: { top: 8.4, bottom: 6.1 },
            },
          },
          scales: axes({
            yTicks: accTicks, yMin: -15, yMax: 15, yTitle: 'Acceleration [g]',
            yWidth: 117.8, yTickPad: 12, yTitlePad: 28,
            xHeight: TOP_H - 301.7, xTickPad: 13, xTitlePad: 44.5,
          }),
        } as any,
        plugins: [framePlugin, topAnnotPlugin],
      }));
    }
    if (botRef.current) {
      charts.push(new Chart(botRef.current, {
        type: 'line',
        data: {
          datasets: [
            lineDs([{ x: 0, y: thresholdValue }, { x: 55, y: thresholdValue }], C_THR, 5, 0),
            lineDs(toXY(derivAvg), C_MAG2, 2, 1),
          ] as any,
        },
        options: {
          animation: false,
          responsive: false,
          events: [],
          layout: { padding: { left: 0, right: W - 1141.9, top: 0, bottom: 0 } },
          plugins: {
            legend: { display: false },
            tooltip: { enabled: false },
            title: {
              display: true, text: 'Acc. derivative average', fullSize: false, color: '#111',
              font: { size: 31, weight: 'bold', family: FAMILY }, padding: { top: 19.4, bottom: 5.1 },
            },
          },
          scales: axes({
            yTicks: derivTicks, yMin: 0, yMax: 1500, yTitle: 'Derivative average',
            yWidth: 120.4, yTickPad: 13, yTitlePad: 10,
            xHeight: BOT_H - 311.7, xTickPad: 13, xTitlePad: 1.5,
          }),
        } as any,
        plugins: [framePlugin, botAnnotPlugin],
      }));
    }
    if (insetRef.current) {
      charts.push(new Chart(insetRef.current, {
        type: 'line',
        data: {
          datasets: [
            lineDs(toXY(insetBlue), 'rgb(72,82,192)', 1.8, 0),
            lineDs(toXY(insetGreen), 'rgb(92,190,82)', 1.8, 1),
            lineDs(toXY(insetRed), 'rgb(242,82,82)', 1.8, 2),
          ] as any,
        },
        options: {
          animation: false,
          responsive: false,
          events: [],
          layout: { padding: 0 },
          plugins: { legend: { display: false }, tooltip: { enabled: false } },
          scales: {
            x: { type: 'linear', min: zoomWindow.t0, max: zoomWindow.t1, display: false },
            y: { type: 'linear', min: zoomWindow.v0, max: zoomWindow.v1, display: false },
          },
        } as any,
      }));
    }
    return () => { charts.forEach((c) => c.destroy()); };
  }, []);

  return (
    <div style={{ position: 'absolute', left: 0, top: 0, width: W, height: 796, background: '#fff', overflow: 'hidden' }}>
      <canvas ref={topRef} width={W} height={TOP_H}
        style={{ position: 'absolute', left: 0, top: 0, width: W, height: TOP_H, display: 'block', zIndex: 1 }} />
      <canvas ref={botRef} width={W} height={BOT_H}
        style={{ position: 'absolute', left: 0, top: BOT_TOP, width: W, height: BOT_H, display: 'block', zIndex: 2 }} />
      <div style={{
        position: 'absolute', left: INSET.left, top: INSET.top, width: INSET.width, height: INSET.height,
        boxSizing: 'border-box', border: '3px solid #111', borderRadius: 3, background: 'rgb(232,233,236)',
        zIndex: 3, overflow: 'hidden',
      }}>
        <canvas ref={insetRef} width={INSET.width - 6} height={INSET.height - 6}
          style={{ display: 'block', width: INSET.width - 6, height: INSET.height - 6 }} />
      </div>
    </div>
  );
}
